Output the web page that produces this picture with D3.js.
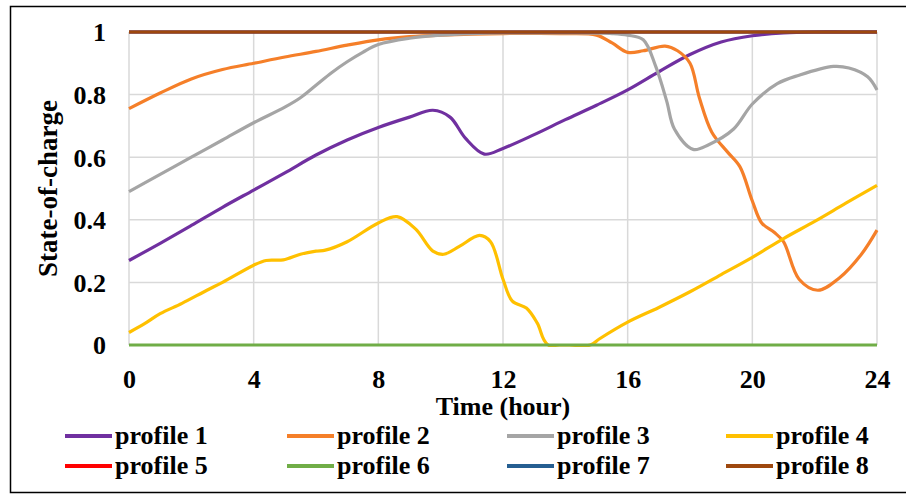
<!DOCTYPE html>
<html>
<head>
<meta charset="utf-8">
<script src="https://cdn.jsdelivr.net/npm/d3@7"></script>
<style>
    body { margin: 0; background: #fff; }
</style>
</head>
<body>
<div id="chart"></div>
<script>
// Series names and colours
const names = ["profile 1", "profile 2", "profile 3", "profile 4", "profile 5", "profile 6", "profile 7", "profile 8"];
const colors = ["#7030a0", "#f57f29", "#a5a5a5", "#ffc000", "#ff0000", "#70ad47", "#255e91", "#9e480e"];

// Tick values
const xTicks = [0, 4, 8, 12, 16, 20, 24];
const yTicks = [0, 0.2, 0.4, 0.6, 0.8, 1];

// [hour, state-of-charge]
const profile1 = [[0, 0.27], [1, 0.325], [2, 0.382], [3, 0.44], [4, 0.495], [5, 0.55], [6, 0.607], [7, 0.655], [8, 0.695], [9, 0.728], [9.75, 0.75], [10.3, 0.728], [10.8, 0.66], [11.4, 0.61], [12, 0.628], [13, 0.672], [14, 0.72], [15, 0.766], [16, 0.815], [17, 0.873], [18, 0.928], [19, 0.968], [20, 0.988], [21, 0.997], [22, 1], [23, 1], [24, 1]];
const profile2 = [[0, 0.755], [1, 0.805], [2, 0.85], [3, 0.88], [4, 0.9], [5, 0.92], [6, 0.938], [7, 0.958], [8, 0.975], [9, 0.985], [10, 0.99], [12, 0.995], [14, 0.995], [15, 0.99], [15.5, 0.965], [16, 0.935], [16.5, 0.94], [17.2, 0.955], [17.6, 0.94], [18, 0.9], [18.3, 0.79], [18.7, 0.68], [19.2, 0.617], [19.6, 0.57], [20, 0.46], [20.3, 0.39], [20.7, 0.36], [21, 0.33], [21.5, 0.21], [22.1, 0.175], [22.8, 0.215], [23.5, 0.29], [24, 0.367]];
const profile3 = [[0, 0.49], [1, 0.545], [2, 0.6], [3, 0.655], [4, 0.71], [5, 0.76], [5.5, 0.79], [6, 0.83], [6.5, 0.87], [7, 0.905], [7.5, 0.935], [8, 0.96], [9, 0.98], [10, 0.99], [11, 0.995], [12, 0.997], [14, 0.997], [15.5, 0.995], [16, 0.99], [16.5, 0.975], [16.9, 0.89], [17.25, 0.78], [17.5, 0.69], [18.1, 0.625], [18.6, 0.64], [19.4, 0.69], [20, 0.77], [20.8, 0.835], [21.5, 0.862], [22.6, 0.89], [23.1, 0.885], [23.7, 0.857], [24, 0.815]];
const profile4 = [[0, 0.04], [0.5, 0.068], [1, 0.1], [1.7, 0.133], [2.5, 0.175], [3, 0.2], [4, 0.255], [4.4, 0.27], [4.95, 0.272], [5.5, 0.29], [6, 0.3], [6.3, 0.303], [7, 0.33], [8, 0.39], [8.6, 0.41], [9.2, 0.37], [9.75, 0.3], [10.1, 0.29], [10.6, 0.315], [11.25, 0.35], [11.6, 0.33], [12, 0.21], [12.3, 0.14], [12.75, 0.118], [13.1, 0.07], [13.45, 0], [14.8, 0], [15.1, 0.02], [16, 0.073], [17, 0.12], [18, 0.17], [19, 0.225], [20, 0.28], [21, 0.34], [22, 0.395], [23, 0.453], [24, 0.51]];
const profile5 = [[0, 1], [24, 1]];
const profile6 = [[0, 0], [24, 0]];
const profile7 = [[0, 1], [24, 1]];
const profile8 = [[0, 1], [24, 1]];

const series = [profile1, profile2, profile3, profile4, profile5, profile6, profile7, profile8];

const FONT = "'Liberation Serif', 'DejaVu Serif', serif";

document.addEventListener("DOMContentLoaded", function () {
    const W = 906, H = 494;
    const margin = { top: 32, right: 29, bottom: 149, left: 129 };
    const width = W - margin.left - margin.right;
    const height = H - margin.top - margin.bottom;

    const root = d3.select("#chart").append("svg")
        .attr("width", W)
        .attr("height", H);

    // Outer frame
    root.append("path")
        .attr("d", `M910,6.5 H10.5 V492.5 H910`)
        .attr("fill", "none")
        .attr("stroke", "#000")
        .attr("stroke-width", 1.5);

    const svg = root.append("g")
        .attr("transform", `translate(${margin.left},${margin.top})`);

    // keep smoothed lines inside the plot box
    root.append("defs").append("clipPath")
        .attr("id", "plotClip")
        .append("rect")
        .attr("x", -2).attr("y", -2)
        .attr("width", width + 4).attr("height", height + 4);

    const xScale = d3.scaleLinear().domain([0, 24]).range([0, width]);
    const yScale = d3.scaleLinear().domain([0, 1]).range([height, 0]);

    // Gridlines
    svg.append("g")
        .selectAll("line.vgrid")
        .data(xTicks)
        .enter().append("line")
        .attr("x1", d => xScale(d)).attr("x2", d => xScale(d))
        .attr("y1", 0).attr("y2", height)
        .attr("stroke", "#d9d9d9").attr("stroke-width", 1.5);

    svg.append("g")
        .selectAll("line.hgrid")
        .data(yTicks)
        .enter().append("line")
        .attr("x1", 0).attr("x2", width)
        .attr("y1", d => yScale(d)).attr("y2", d => yScale(d))
        .attr("stroke", "#d9d9d9").attr("stroke-width", 1.5);

    // Axes (labels only)
    const xAxis = svg.append("g")
        .attr("transform", `translate(0,${height})`)
        .call(d3.axisBottom(xScale).tickValues(xTicks).tickSize(0).tickPadding(0).tickFormat(d3.format("d")));
    xAxis.select(".domain").remove();
    xAxis.selectAll("text")
        .attr("dy", null)
        .attr("y", 43);

    const yAxis = svg.append("g")
        .call(d3.axisLeft(yScale).tickValues(yTicks).tickSize(0).tickPadding(0).tickFormat(d => d === 0 || d === 1 ? d : d3.format(".1f")(d)));
    yAxis.select(".domain").remove();
    yAxis.selectAll("text")
        .attr("x", -23)
        .attr("dy", "0.34em");

    // Lines
    const line = d3.line()
        .x(d => xScale(d[0]))
        .y(d => yScale(d[1]))
        .curve(d3.curveCatmullRom.alpha(0.5));

    const lines = svg.append("g").attr("clip-path", "url(#plotClip)");
    series.forEach((s, i) => {
        lines.append("path")
            .datum(s)
            .attr("d", line)
            .attr("fill", "none")
            .attr("stroke", colors[i])
            .attr("stroke-width", 3.2);
    });

    // Axis titles
    svg.append("text")
        .attr("x", width / 2)
        .attr("y", height + 70)
        .attr("text-anchor", "middle")
        .text("Time (hour)");

    svg.append("text")
        .attr("class", "ytitle")
        .attr("transform", `translate(${48 - margin.left + 9},${height / 2}) rotate(-90)`)
        .attr("text-anchor", "middle")
        .text("State-of-charge");

    // Legend, 4 columns x 2 rows
    const legend = root.append("g");
    const colX = [65, 287, 507, 726];
    const rowY = [436, 466];
    names.forEach((n, i) => {
        const cx = colX[i % 4], cy = rowY[Math.floor(i / 4)];
        legend.append("line")
            .attr("x1", cx).attr("x2", cx + 47)
            .attr("y1", cy).attr("y2", cy)
            .attr("stroke", colors[i]).attr("stroke-width", 4);
        legend.append("text")
            .attr("x", cx + 50)
            .attr("y", cy + 8)
            .text(n);
    });

    // Same bold serif for every label
    root.selectAll("text")
        .style("font-family", FONT)
        .style("font-weight", "bold")
        .style("font-size", "26px")
        .style("fill", "#000");
    root.select(".ytitle").style("font-size", "27px");
});
</script>
</body>
</html>
